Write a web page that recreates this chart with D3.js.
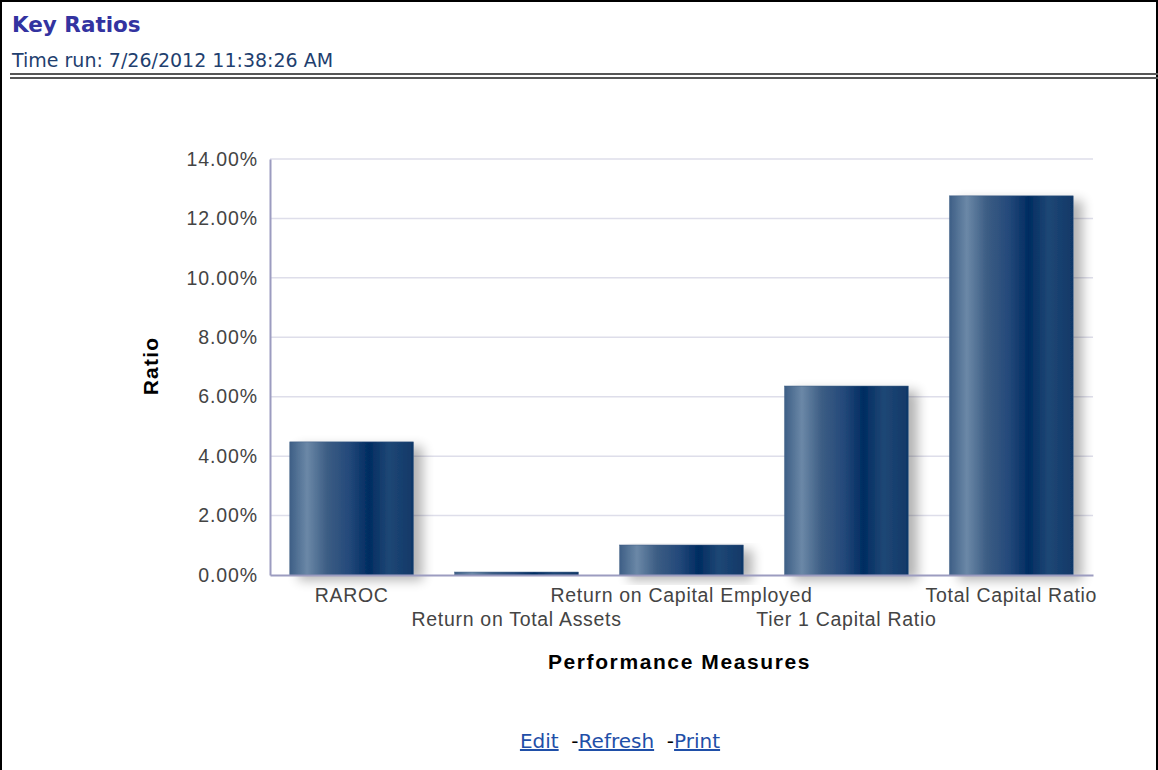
<!DOCTYPE html>
<html>
<head>
<meta charset="utf-8">
<script src="https://cdn.jsdelivr.net/npm/d3@7"></script>
<style>
  body { margin: 0; background: #fff; }
  #chart { width: 1158px; height: 770px; }
</style>
</head>
<body>
<div id="chart"></div>
<script>
// chart values
var categories = ["RAROC", "Return on Total Assets", "Return on Capital Employed", "Tier 1 Capital Ratio", "Total Capital Ratio"];
var ratios = [4.48, 0.1, 1.01, 6.36, 12.76];
var yTicks = [0, 2, 4, 6, 8, 10, 12, 14];
var links = ["Edit", "Refresh", "Print"];

var width = 1158, height = 770;
var margin = { top: 159, right: 65, bottom: 195, left: 270 };
var plotW = width - margin.left - margin.right;
var plotH = height - margin.top - margin.bottom;

var svg = d3.select("#chart").append("svg")
    .attr("width", width)
    .attr("height", height);

// page frame
svg.append("rect")
    .attr("x", 1).attr("y", 1)
    .attr("width", width - 2).attr("height", height + 5)
    .attr("fill", "none").attr("stroke", "#000").attr("stroke-width", 2);

svg.append("text")
    .attr("x", 12).attr("y", 32)
    .attr("font-family", "Tahoma, 'DejaVu Sans', sans-serif")
    .attr("font-size", 21.5).attr("font-weight", "bold")
    .attr("fill", "#3333a0")
    .text("Key Ratios");

svg.append("text")
    .attr("x", 12).attr("y", 67)
    .attr("font-family", "Tahoma, 'DejaVu Sans', sans-serif")
    .attr("font-size", 19)
    .attr("fill", "#1f3f6f")
    .text("Time run: 7/26/2012 11:38:26 AM");

// double rule under header
[74, 78].forEach(function(y) {
    svg.append("line")
        .attr("x1", 10).attr("x2", width)
        .attr("y1", y).attr("y2", y)
        .attr("stroke", "#555").attr("stroke-width", 2);
});

var defs = svg.append("defs");
var grad = defs.append("linearGradient")
    .attr("id", "barGrad")
    .attr("x1", "0%").attr("x2", "100%").attr("y1", "0%").attr("y2", "0%");
[["0%", "#3e5f86"], ["14%", "#6b88a7"], ["30%", "#3c5d84"], ["48%", "#24497a"],
 ["64%", "#002c61"], ["80%", "#1f4775"], ["100%", "#103868"]].forEach(function(s) {
    grad.append("stop").attr("offset", s[0]).attr("stop-color", s[1]);
});

var shadow = defs.append("filter").attr("id", "shadow")
    .attr("x", "-20%").attr("y", "-20%").attr("width", "150%").attr("height", "150%");
shadow.append("feGaussianBlur").attr("in", "SourceAlpha").attr("stdDeviation", 6).attr("result", "blur");
shadow.append("feOffset").attr("dx", 9).attr("dy", 5).attr("result", "off");
shadow.append("feComponentTransfer").append("feFuncA").attr("type", "linear").attr("slope", 0.3);
var merge = shadow.append("feMerge");
merge.append("feMergeNode");
merge.append("feMergeNode").attr("in", "SourceGraphic");

var g = svg.append("g")
    .attr("transform", "translate(" + margin.left + "," + margin.top + ")");

var x = d3.scaleBand()
    .domain(categories)
    .range([0, plotW])
    .paddingInner(0.25)
    .paddingOuter(0.12);

var y = d3.scaleLinear()
    .domain([0, 14])
    .range([plotH, 0]);

// gridlines
g.selectAll(".grid").data(yTicks.slice(1)).enter().append("line")
    .attr("x1", 0).attr("x2", plotW)
    .attr("y1", function(d) { return y(d); })
    .attr("y2", function(d) { return y(d); })
    .attr("stroke", "#dedeea").attr("stroke-width", 1.5);

// bars
g.selectAll(".bar").data(ratios).enter().append("rect")
    .attr("class", "bar")
    .attr("x", function(d, i) { return x(categories[i]); })
    .attr("y", function(d) { return y(d); })
    .attr("width", x.bandwidth())
    .attr("height", function(d) { return plotH - y(d); })
    .attr("fill", "url(#barGrad)")
    .attr("stroke", "#3a5a80").attr("stroke-width", 0.5)
    .attr("filter", "url(#shadow)");

// y axis
var yAxis = g.append("g")
    .call(d3.axisLeft(y).tickValues(yTicks).tickSize(0).tickPadding(12)
        .tickFormat(function(d) { return d.toFixed(2) + "%"; }));
yAxis.select(".domain").attr("stroke", "#9c9cc0").attr("stroke-width", 2);
yAxis.selectAll("text")
    .attr("font-family", "Arial, 'Liberation Sans', sans-serif")
    .attr("font-size", 19.5).attr("letter-spacing", 0.9).attr("fill", "#444");

// x axis
var xAxis = g.append("g")
    .attr("transform", "translate(0," + plotH + ")")
    .call(d3.axisBottom(x).tickSize(0).tickPadding(0));
xAxis.select(".domain").attr("stroke", "#9c9cc0").attr("stroke-width", 2);
xAxis.selectAll("text")
    .attr("font-family", "Arial, 'Liberation Sans', sans-serif")
    .attr("font-size", 19.5).attr("letter-spacing", 0.7).attr("fill", "#444")
    .attr("dy", null)
    .attr("y", function(d, i) { return i % 2 === 0 ? 27 : 51; });

// axis titles
svg.append("text")
    .attr("x", margin.left + plotW / 2 - 2).attr("y", 669)
    .attr("text-anchor", "middle")
    .attr("font-family", "Arial, 'Liberation Sans', sans-serif")
    .attr("font-size", 21).attr("letter-spacing", 1.6).attr("font-weight", "bold")
    .text("Performance Measures");

svg.append("text")
    .attr("transform", "translate(158,366) rotate(-90)")
    .attr("text-anchor", "middle")
    .attr("font-family", "Arial, 'Liberation Sans', sans-serif")
    .attr("font-size", 21).attr("letter-spacing", 1.2).attr("font-weight", "bold")
    .text("Ratio");

// footer links
var foot = svg.append("text")
    .attr("x", 620).attr("y", 748)
    .attr("text-anchor", "middle")
    .attr("font-family", "Tahoma, 'DejaVu Sans', sans-serif")
    .attr("font-size", 20);
links.forEach(function(l, i) {
    if (i > 0) foot.append("tspan").attr("fill", "#000").text(" \u00a0-");
    foot.append("tspan")
        .attr("fill", "#1f4fa8")
        .attr("text-decoration", "underline")
        .text(l);
});
</script>
</body>
</html>
